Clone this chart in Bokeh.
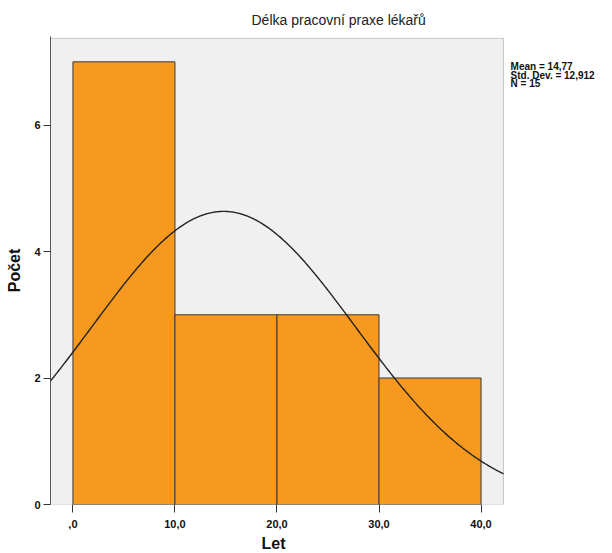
import numpy as np
from bokeh.plotting import figure
from bokeh.models import Range1d, FixedTicker, BoxAnnotation, Title
from bokeh.core.properties import value
from bokeh.embed import file_html
from bokeh.resources import INLINE

# Histogram of years of practice (bins of 10 years)
bin_left = [0, 10, 20, 30]
bin_right = [10, 20, 30, 40]
counts = [7, 3, 3, 2]

x_ticks = [0, 10, 20, 30, 40]
x_tick_labels = [",0", "10,0", "20,0", "30,0", "40,0"]
y_ticks = [0, 2, 4, 6]

mean = 14.77
std_dev = 12.912
n_obs = 15
bin_width = 10

stats_lines = ["Mean = 14,77", "Std. Dev. = 12,912", "N = 15"]

FONT = "Liberation Sans"

# Chart panel extent (data units); the frame extends further right so the
# statistics block can sit beside the panel as ordinary text.
panel_x0, panel_x1 = -2.2, 42.2
panel_y1 = 7.37

p = figure(
    width=612, height=553,
    output_backend="svg", toolbar_location=None,
    x_range=Range1d(panel_x0, 52.69), y_range=Range1d(0, 7.40),
    min_border_left=50, min_border_right=2,
    min_border_top=36, min_border_bottom=49,
)

p.background_fill_color = "white"
p.border_fill_color = "white"
p.outline_line_color = None
p.grid.visible = False

# Grey chart panel with border
p.add_layout(BoxAnnotation(left=panel_x0, right=panel_x1, bottom=0, top=panel_y1,
                           fill_color="#f0f0f0", fill_alpha=1,
                           line_color="#555555", line_width=1, level="underlay"))

# Title
p.title.text = "Délka pracovní praxe lékařů"
p.title.text_font = FONT
p.title.text_font_size = "14px"
p.title.text_font_style = "normal"
p.title.text_color = "#222222"
p.title.align = "left"
p.title.offset = 201
p.title.standoff = 17

# Bars
p.quad(left=bin_left, right=bin_right, top=counts, bottom=0,
       fill_color="#F7991E", line_color="#3a3a3a", line_width=1)

# Fitted normal curve scaled to counts
xs = np.linspace(panel_x0, panel_x1, 400)
ys = n_obs * bin_width / (std_dev * np.sqrt(2 * np.pi)) * np.exp(-0.5 * ((xs - mean) / std_dev) ** 2)
p.line(xs, ys, line_color="#222222", line_width=1.4)

# Axes
for ax in (p.xaxis, p.yaxis):
    ax.minor_tick_line_color = None
    ax.major_tick_in = 0
    ax.major_tick_out = 8
    ax.major_tick_line_color = "#333333"
    ax.axis_line_color = None
    ax.major_label_text_font = FONT
    ax.major_label_text_font_size = "11px"
    ax.major_label_text_font_style = "bold"
    ax.major_label_text_color = "#111111"
    ax.axis_label_text_font = FONT
    ax.axis_label_text_font_size = "16px"
    ax.axis_label_text_font_style = "bold"
    ax.axis_label_text_color = "#111111"

p.xaxis.ticker = FixedTicker(ticks=x_ticks)
p.xaxis.major_label_overrides = dict(zip(x_ticks, x_tick_labels))
p.xaxis.major_label_standoff = 7

# x-axis caption, centred under the grey panel
p.add_layout(Title(text="Let", align="left", offset=211, standoff=4,
                   text_font=FONT, text_font_size="16px", text_line_height=0.5,
                   text_font_style="bold", text_color="#111111"), "below")

p.yaxis.ticker = FixedTicker(ticks=y_ticks)
p.yaxis.axis_label = "Počet"
p.yaxis.axis_line_color = "#555555"
p.yaxis.major_tick_out = 7
p.yaxis.major_label_standoff = 3
p.yaxis.major_label_orientation = "horizontal"
p.yaxis.axis_label_standoff = 8

# Summary statistics beside the panel
stat_y = [6.92, 6.785, 6.65]
p.text(x=[42.9] * len(stats_lines), y=stat_y, text=stats_lines,
       text_font=value(FONT), text_font_size="10px", text_font_style="bold",
       text_color="#111111", text_baseline="middle", text_align="left")

open("out.html", "w").write(file_html(p, INLINE))
